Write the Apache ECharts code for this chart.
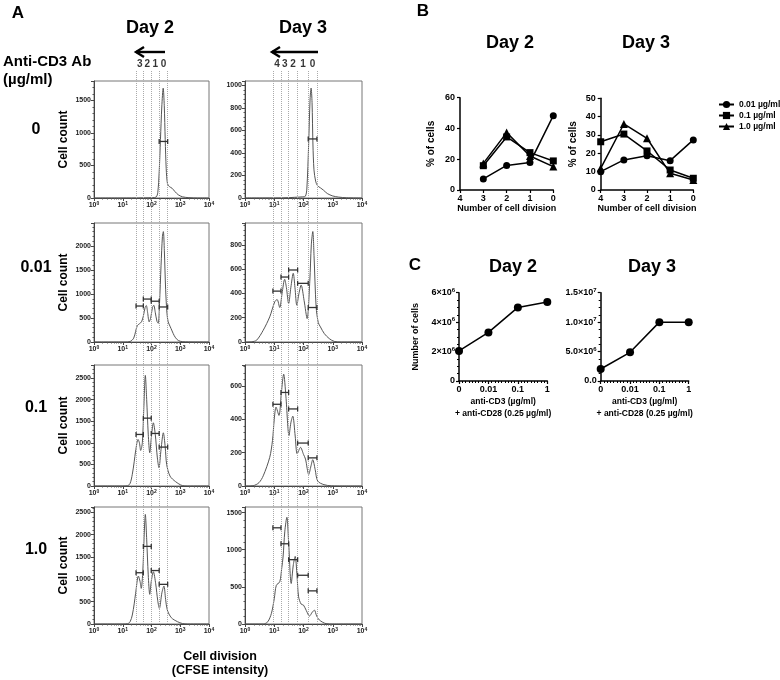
<!DOCTYPE html>
<html>
<head>
<meta charset="utf-8">
<script src="https://cdn.jsdelivr.net/npm/echarts@6/dist/echarts.min.js"></script>
<style>
  html, body { margin: 0; padding: 0; background: #fff; }
  #chart { width: 780px; height: 680px; }
</style>
</head>
<body>
<div id="chart"></div>
<script>
const FONT = '"Liberation Sans", Arial, Helvetica, sans-serif';

// ---- panel A: CFSE histograms, [CFSE intensity, cell count] ----
const doses = ['0', '0.01', '0.1', '1.0'];

const d2_0 = [[1,0],[20,0],[60,2],[110,5],[145,15],[165,80],[185,400],[205,900],[228,1400],[255,1690],[278,1420],[300,900],[325,450],[360,220],[420,175],[520,150],[650,100],[850,50],[1200,18],[2000,5],[4000,0],[10000,0]];
const d3_0 = [[1,0],[20,1],[50,6],[90,10],[115,15],[130,80],[150,480],[168,880],[182,977],[196,850],[210,480],[228,250],[260,150],[300,110],[380,90],[480,70],[650,40],[1000,18],[1600,8],[3000,2],[10000,0]];
const d2_1 = [[1,0],[12,0],[18,10],[24,80],[28,220],[32,340],[38,380],[45,420],[52,540],[60,720],[66,760],[73,620],[83,420],[95,520],[108,720],[120,765],[135,620],[155,430],[172,390],[190,800],[215,1600],[240,2200],[258,2300],[280,1900],[310,1100],[345,600],[380,420],[440,330],[520,230],[620,130],[780,50],[1000,15],[1500,3],[10000,0]];
const d3_1 = [[1,0],[1.7,2],[2.5,15],[4.2,97],[7,207],[10.4,331],[12.5,350],[15.4,284],[18.5,400],[22.7,516],[26,450],[31,317],[37,450],[44.6,566],[51,450],[59,303],[70,400],[83,469],[105,340],[133,193],[164,500],[185,800],[208,910],[230,700],[270,290],[320,160],[380,124],[515,69],[760,28],[1120,5],[2000,0],[10000,0]];
const d2_2 = [[1,0],[10,0],[14.5,5],[18,60],[21.5,270],[25,560],[28,808],[34,1077],[38,1000],[42,823],[48,1000],[54,1800],[61,2560],[68,2000],[77,1200],[87,770],[98,1100],[116,1462],[135,1200],[160,650],[182,424],[215,850],[258,1231],[300,900],[337,500],[440,230],[690,100],[1180,10],[1800,0],[10000,0]];
const d3_2 = [[1,0],[1.9,2],[3,20],[4.2,61],[7,172],[8.7,273],[10,400],[11.5,474],[14.5,424],[17.5,560],[21,672],[25,540],[32,303],[37,380],[43,420],[52,300],[61,193],[79,232],[100,190],[117,162],[151,70],[180,120],[207,158],[250,100],[305,30],[500,8],[900,1],[1500,0],[10000,0]];
const d2_3 = [[1,0],[10,0],[14.5,5],[18,50],[21.5,201],[25,450],[28,686],[35,1074],[40,950],[44,798],[50,1200],[55,1900],[61,2454],[68,1900],[77,1100],[87,664],[98,950],[116,1170],[140,900],[165,520],[188,351],[230,700],[270,850],[310,550],[355,313],[490,141],[800,52],[1190,10],[1800,0],[10000,0]];
const d3_3 = [[1,0],[4.2,0],[6,30],[8,143],[10,340],[11.8,522],[15.4,567],[18,750],[20,901],[23,1250],[27,1437],[31,1100],[38,545],[45,800],[52,910],[60,650],[68,366],[83,268],[100,254],[125,180],[160,107],[200,160],[236,187],[280,110],[348,54],[590,5],[1000,0],[10000,0]];

// division gates: boundaries on the CFSE axis and gate heights per division
const divs2 = [3, 2, 1, 0];
const bounds2 = [29, 52, 98, 185, 365];
const divs3 = [4, 3, 2, 1, 0];
const bounds3 = [9, 17, 31, 63, 145, 288];

const gates2_0 = [null, null, null, 870];
const gates2_1 = [750, 895, 850, 730];
const gates2_2 = [1193, 1570, 1216, 900];
const gates2_3 = [1148, 1738, 1197, 888];
const gates3_0 = [null, null, null, null, 525];
const gates3_1 = [419, 535, 593, 483, 284];
const gates3_2 = [491, 562, 463, 258, 169];
const gates3_3 = [1295, 1080, 866, 656, 446];

const yMax2 = [1800, 2480, 2800, 2620];
const yStep2 = [500, 500, 500, 500];
const yMax3 = [1040, 980, 727, 1575];
const yStep3 = [200, 200, 200, 500];

// ---- panel B: % of cells per division ----
const bNames = ['0.01 µg/ml', '0.1 µg/ml', '1.0 µg/ml'];
const bCats = ['4', '3', '2', '1', '0'];
const bDiv2 = ['3', '2', '1', '0'];
const bDay2_001 = [7.2, 16.0, 17.8, 48.3];
const bDay2_01 = [15.8, 34.5, 24.3, 18.9];
const bDay2_1 = [17.3, 37.3, 22.1, 15.2];
const bDiv3 = ['4', '3', '2', '1', '0'];
const bDay3_001 = [10.0, 16.4, 18.7, 16.0, 27.3];
const bDay3_01 = [26.3, 30.5, 21.3, 10.9, 6.4];
const bDay3_1 = [11.8, 36.0, 28.2, 9.1, 5.5];

// ---- panel C: number of cells ----
const cLabels = ['0', '0.01', '0.1', '1'];
const cDay2 = [2.04e6, 3.3e6, 5.0e6, 5.37e6];
const cDay3 = [2.04e6, 4.87e6, 1.0e7, 1.0e7];

// ---------------------------------------------------------------
const chart = echarts.init(document.getElementById('chart'));

const rowTop = [81, 223, 365, 507];
const rowH = [117, 119, 121, 117];
const colLeft = [94, 245];
const colW = [115, 117];

const grids = [], xAxes = [], yAxes = [], series = [];

const hist = [[d2_0, d2_1, d2_2, d2_3], [d3_0, d3_1, d3_2, d3_3]];
const gates = [[gates2_0, gates2_1, gates2_2, gates2_3], [gates3_0, gates3_1, gates3_2, gates3_3]];
const bounds = [bounds2, bounds3];
const divs = [divs2, divs3];
const yMax = [yMax2, yMax3];
const yStep = [yStep2, yStep3];

const small = { fontSize: 7, fontWeight: 'bold', fontFamily: FONT, color: '#222' };

function logX(gi, show) {
  return {
    type: 'log', logBase: 10, min: 1, max: 10000, gridIndex: gi, show,
    axisLine: { lineStyle: { color: '#444', width: 1 } },
    axisTick: { length: 3, lineStyle: { color: '#444' } },
    minorTick: { show: true, splitNumber: 9, length: 1.5, lineStyle: { color: '#555' } },
    splitLine: { show: false },
    axisLabel: {
      margin: 3,
      formatter: v => '{b|10}{s|' + Math.round(Math.log10(v)) + '}',
      rich: {
        b: { ...small, lineHeight: 9 },
        s: { ...small, fontSize: 5, lineHeight: 9, verticalAlign: 'top' }
      }
    }
  };
}

function gateSeries(gi, bnd, heights) {
  const data = [];
  heights.forEach((h, i) => { if (h != null) data.push([bnd[i], bnd[i + 1], h]); });
  return {
    type: 'custom', xAxisIndex: gi, yAxisIndex: gi, silent: true, z: 5,
    data,
    encode: { x: [0, 1], y: 2 },
    renderItem(params, api) {
      const a = api.coord([api.value(0), api.value(2)]);
      const b = api.coord([api.value(1), api.value(2)]);
      const st = { stroke: '#333', lineWidth: 1.3 };
      return {
        type: 'group',
        children: [
          { type: 'line', shape: { x1: a[0], y1: a[1], x2: b[0], y2: b[1] }, style: st },
          { type: 'line', shape: { x1: a[0], y1: a[1] - 2.5, x2: a[0], y2: a[1] + 2.5 }, style: st },
          { type: 'line', shape: { x1: b[0], y1: b[1] - 2.5, x2: b[0], y2: b[1] + 2.5 }, style: st }
        ]
      };
    }
  };
}

// histogram grids 0..7 (row-major: day2, day3)
for (let r = 0; r < 4; r++) {
  for (let c = 0; c < 2; c++) {
    const gi = grids.length;
    const step = yStep[c][r];
    grids.push({
      left: colLeft[c], top: rowTop[r], width: colW[c], height: rowH[r],
      show: true, borderColor: '#777', borderWidth: 1, backgroundColor: 'transparent'
    });
    xAxes.push(logX(gi, true));
    yAxes.push({
      type: 'value', gridIndex: gi, min: 0, max: yMax[c][r], interval: step,
      name: c === 0 ? 'Cell count' : '', nameLocation: 'middle', nameGap: 24, nameRotate: 90,
      nameTextStyle: { fontSize: 12, fontWeight: 'bold', fontFamily: FONT, color: '#000' },
      axisLine: { show: true, lineStyle: { color: '#444' } },
      axisTick: { show: true, length: 3, lineStyle: { color: '#444' } },
      minorTick: { show: true, splitNumber: 5, length: 1.5, lineStyle: { color: '#555' } },
      splitLine: { show: false },
      axisLabel: { ...small, margin: 3, formatter: v => (v % step === 0 ? String(v) : '') }
    });
    series.push({
      type: 'line', xAxisIndex: gi, yAxisIndex: gi, data: hist[c][r],
      smooth: 0.3, symbol: 'none', z: 3,
      lineStyle: { color: '#555', width: 1 }
    });
    series.push(gateSeries(gi, bounds[c], gates[c][r]));
  }
}

// dotted division guides across the whole column (grids 8, 9)
const guideStyle = { type: 'dotted', color: '#aaa', width: 1 };
for (let c = 0; c < 2; c++) {
  const gi = grids.length;
  grids.push({ left: colLeft[c], top: 71, width: colW[c], height: 624 - 71, show: false });
  xAxes.push({ ...logX(gi, false) });
  yAxes.push({ type: 'value', gridIndex: gi, min: 0, max: 1, show: false });
  const bnd = bounds[c];
  series.push({
    type: 'scatter', xAxisIndex: gi, yAxisIndex: gi, silent: true, z: 2,
    symbolSize: 1, itemStyle: { color: 'transparent' },
    data: divs[c].map((d, i) => [Math.sqrt(bnd[i] * bnd[i + 1]), 1, d]),
    label: {
      show: true, position: 'top', distance: 1, formatter: p => String(p.value[2]),
      fontSize: 10, fontWeight: 'bold', fontFamily: FONT, color: '#000'
    },
    markLine: {
      silent: true, symbol: 'none', label: { show: false },
      lineStyle: guideStyle,
      data: bnd.map(b => ({ xAxis: b, lineStyle: guideStyle }))
    }
  });
}

// ---- panel B grids (10, 11) ----
const axisBlack = {
  axisLine: { show: true, onZero: false, lineStyle: { color: '#000', width: 1.5 } },
  axisTick: { show: true, length: 3, lineStyle: { color: '#000', width: 1.2 } },
  splitLine: { show: false }
};
const lblB = { fontSize: 9, fontWeight: 'bold', fontFamily: FONT, color: '#000' };
const nameB = { fontSize: 10, fontWeight: 'bold', fontFamily: FONT, color: '#000' };

const bSymbols = ['circle', 'rect', 'triangle'];
const bSizes = [7, 7, 8];
const bData = [[bDay2_001, bDay2_01, bDay2_1], [bDay3_001, bDay3_01, bDay3_1]];
const bDivs = [bDiv2, bDiv3];
const bGrid = [
  { left: 460, top: 97.7, width: 93.3, height: 92.3, max: 60, step: 20, gap: 24 },
  { left: 600.7, top: 98.3, width: 92.6, height: 91.7, max: 50, step: 10, gap: 22 }
];
bGrid.forEach((g, k) => {
  const gi = grids.length;
  grids.push({ left: g.left, top: g.top, width: g.width, height: g.height, show: false });
  xAxes.push({
    type: 'category', gridIndex: gi, data: bCats, boundaryGap: false, position: 'bottom', ...axisBlack,
    name: 'Number of cell division', nameLocation: 'middle', nameGap: 12,
    nameTextStyle: { ...nameB, fontSize: 9 },
    axisLabel: { ...lblB, margin: 4, interval: 0 }
  });
  yAxes.push({
    type: 'value', gridIndex: gi, min: 0, max: g.max, interval: g.step, position: 'left', ...axisBlack,
    name: '% of cells', nameLocation: 'middle', nameGap: g.gap, nameRotate: 90,
    nameTextStyle: nameB,
    axisLabel: { ...lblB, margin: 5 }
  });
  bNames.forEach((nm, s) => {
    series.push({
      type: 'line', name: nm, xAxisIndex: gi, yAxisIndex: gi,
      data: bDivs[k].map((d, i) => [d, bData[k][s][i]]),
      symbol: bSymbols[s], symbolSize: bSizes[s], z: 4 + s, clip: false,
      lineStyle: { color: '#000', width: 1.5 }, itemStyle: { color: '#000' }
    });
  });
});

// ---- panel C grids (12, 13) ----
function sciLabel(v, digits) {
  if (v === 0) return '{b|' + (digits ? (0).toFixed(digits) : '0') + '}';
  const e = Math.floor(Math.log10(v) + 1e-9);
  const m = v / Math.pow(10, e);
  return '{b|' + m.toFixed(digits) + '×10}{s|' + e + '}';
}
const cGrid = [
  { left: 459, top: 292.7, width: 88.3, height: 88.3, max: 6e6, step: 2e6, digits: 0, data: cDay2, name: 'Number of cells' },
  { left: 600.7, top: 292.7, width: 88, height: 88.3, max: 1.5e7, step: 5e6, digits: 1, data: cDay3, name: '' }
];
cGrid.forEach(g => {
  const gi = grids.length;
  grids.push({ left: g.left, top: g.top, width: g.width, height: g.height, show: false });
  xAxes.push({
    type: 'value', gridIndex: gi, min: 0, max: 3, interval: 1, ...axisBlack,
    minorTick: { show: true, splitNumber: 9, length: 2, lineStyle: { color: '#000' } },
    name: 'anti-CD3 (µg/ml)\n+ anti-CD28 (0.25 µg/ml)', nameLocation: 'middle', nameGap: 15,
    nameTextStyle: { ...nameB, fontSize: 8.5, lineHeight: 11.6 },
    axisLabel: { ...lblB, margin: 4, formatter: v => cLabels[v] }
  });
  yAxes.push({
    type: 'value', gridIndex: gi, min: 0, max: g.max, interval: g.step, ...axisBlack,
    minorTick: { show: true, splitNumber: 4, length: 2, lineStyle: { color: '#000' } },
    name: g.name, nameLocation: 'middle', nameGap: 39, nameRotate: 90,
    nameTextStyle: { ...nameB, fontSize: 9 },
    axisLabel: {
      margin: 4, formatter: v => sciLabel(v, g.digits),
      rich: {
        b: { ...lblB, lineHeight: 11 },
        s: { ...lblB, fontSize: 6, lineHeight: 11, verticalAlign: 'top' }
      }
    }
  });
  series.push({
    type: 'line', xAxisIndex: gi, yAxisIndex: gi,
    data: g.data.map((v, i) => [i, v]),
    symbol: 'circle', symbolSize: 8, z: 5,
    lineStyle: { color: '#000', width: 1.5 }, itemStyle: { color: '#000' }
  });
});

// ---- texts and arrows ----
function txt(text, x, y, size, align) {
  align = align || 'center';
  return {
    type: 'text', x, y, silent: true, z: 10,
    style: {
      text, fill: '#000', font: 'bold ' + size + 'px ' + FONT,
      align, verticalAlign: 'middle', textAlign: align, textVerticalAlign: 'middle'
    }
  };
}
function arrow(x1, x2, y) {
  return {
    type: 'group', silent: true, z: 10,
    children: [
      { type: 'line', shape: { x1: x1 + 1, y1: y, x2, y2: y }, style: { stroke: '#000', lineWidth: 2.4 } },
      { type: 'polyline', shape: { points: [[x1 + 9, y - 5], [x1 + 1, y], [x1 + 9, y + 5]] },
        style: { stroke: '#000', lineWidth: 2.4, fill: null } }
    ]
  };
}

const graphic = [
  txt('A', 18, 13, 17),
  txt('Day 2', 150, 28, 18), txt('Day 3', 303, 28, 18),
  txt('Anti-CD3 Ab', 3, 62, 15, 'left'), txt('(µg/ml)', 3, 80, 15, 'left'),
  txt(doses[0], 36, 130, 16), txt(doses[1], 36, 268, 16),
  txt(doses[2], 36, 408, 16), txt(doses[3], 36, 550, 16),
  txt('Cell division', 220, 657, 12.5), txt('(CFSE intensity)', 220, 671, 12.5),
  arrow(135, 165, 52), arrow(271, 318, 52),
  txt('B', 423, 11, 17),
  txt('Day 2', 510, 43, 18), txt('Day 3', 646, 43, 18),
  txt('C', 415, 265, 17),
  txt('Day 2', 513, 267, 18), txt('Day 3', 652, 267, 18)
];

chart.setOption({
  animation: false,
  textStyle: { fontFamily: FONT },
  grid: grids.map(g => ({ outerBoundsMode: 'none', ...g })),
  xAxis: xAxes,
  yAxis: yAxes,
  legend: {
    data: bNames, orient: 'vertical', left: 718, top: 100, padding: 0,
    itemWidth: 15, itemHeight: 9, itemGap: 2,
    textStyle: { fontSize: 8.5, fontWeight: 'bold', fontFamily: FONT, color: '#000' }
  },
  series,
  graphic
});
</script>
</body>
</html>
